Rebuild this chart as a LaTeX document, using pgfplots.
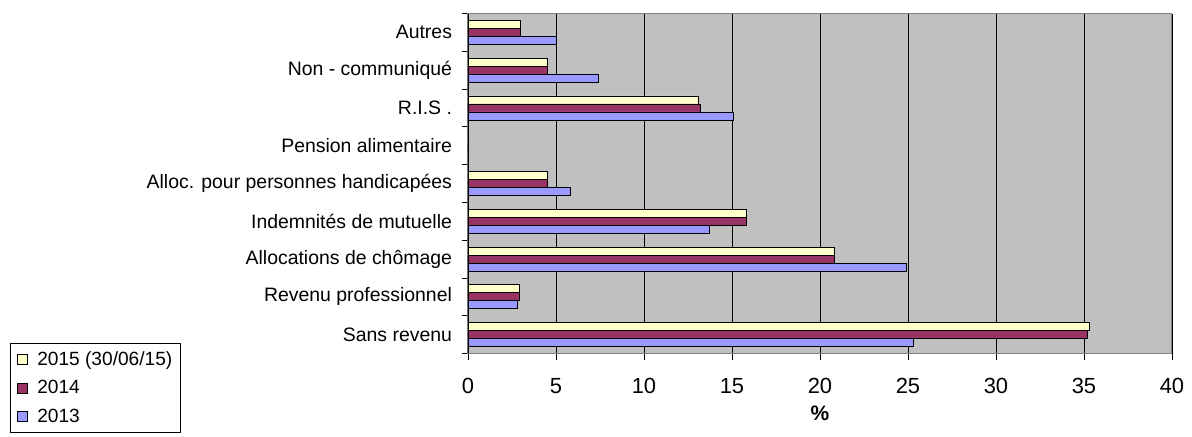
\documentclass[border=0pt]{standalone}
\usepackage{pgfplots}
\pgfplotsset{compat=1.18}
\usepackage{fontspec}
\setmainfont{Liberation Sans}
\definecolor{cA}{HTML}{FFFFCC}
\definecolor{cB}{HTML}{993366}
\definecolor{cC}{HTML}{9999FF}
\definecolor{bg}{HTML}{C0C0C0}
\begin{document}
\begin{tikzpicture}
\path[use as bounding box] (-468bp,-83.5bp) rectangle (724bp,353.5bp);
\begin{axis}[
  anchor=south west, at={(0,0)},
  scale only axis, width=704bp, height=340bp,
  xbar, bar width=8bp,
  xmin=0, xmax=40, xtick={0,5,...,40},
  ymin=-0.5, ymax=8.5,
  ytick={0,...,8},
  yticklabels={Sans revenu,Revenu professionnel,Allocations de chômage,Indemnités de mutuelle,Alloc. pour personnes handicapées,Pension alimentaire,R.I.S .,Non - communiqué,Autres},
  minor ytick={-0.5,0.5,...,8.5},
  every major y tick/.append style={draw=none},
  tick align=outside, major tick length=6.5bp, minor tick length=6bp,
  xtick pos=bottom, ytick pos=left,
  every tick/.append style={black, line width=0.8pt},
  xmajorgrids, major grid style={black, line width=0.9pt},
  axis background/.style={fill=bg},
  axis line style={draw=gray, line width=1pt},
  yticklabel style={font=\fontsize{19.5}{23}\selectfont, xshift=-6bp},
  xticklabel style={font=\fontsize{22}{26}\selectfont, yshift=-15bp},
  /pgf/number format/assume math mode=true,
  xlabel={\textbf{\%}}, xlabel style={font=\fontsize{21}{25}\selectfont, at={(axis description cs:0.5,0)}, anchor=center, yshift=-60bp},
  legend style={at={(-0.651,0.032)}, anchor=north west, draw=black, line width=0.8pt,
    font=\fontsize{19.2}{23}\selectfont, row sep=9.5bp, inner sep=6.5bp, cells={anchor=west}},
  legend image code/.code={\draw[#1, line width=0.6pt] (0bp,-5.5bp) rectangle (10bp,4.5bp); \path (18bp,0bp);},
  every axis plot/.append style={draw=black, line width=0.8pt},
]
\addplot[fill=cA, bar shift=8bp] coordinates {(35.3,0) (2.9,1) (20.8,2) (15.8,3) (4.5,4) (0,5) (13.1,6) (4.5,7) (3.0,8)};
\addplot[fill=cB, bar shift=0bp] coordinates {(35.2,0) (2.9,1) (20.8,2) (15.8,3) (4.5,4) (0,5) (13.2,6) (4.5,7) (3.0,8)};
\addplot[fill=cC, bar shift=-8bp] coordinates {(25.3,0) (2.8,1) (24.9,2) (13.7,3) (5.8,4) (0,5) (15.1,6) (7.4,7) (5.0,8)};
\legend{2015 (30/06/15),2014,2013}
\draw[black, line width=1pt] (rel axis cs:0,0) -- (rel axis cs:0,1);
\end{axis}
\end{tikzpicture}
\end{document}
